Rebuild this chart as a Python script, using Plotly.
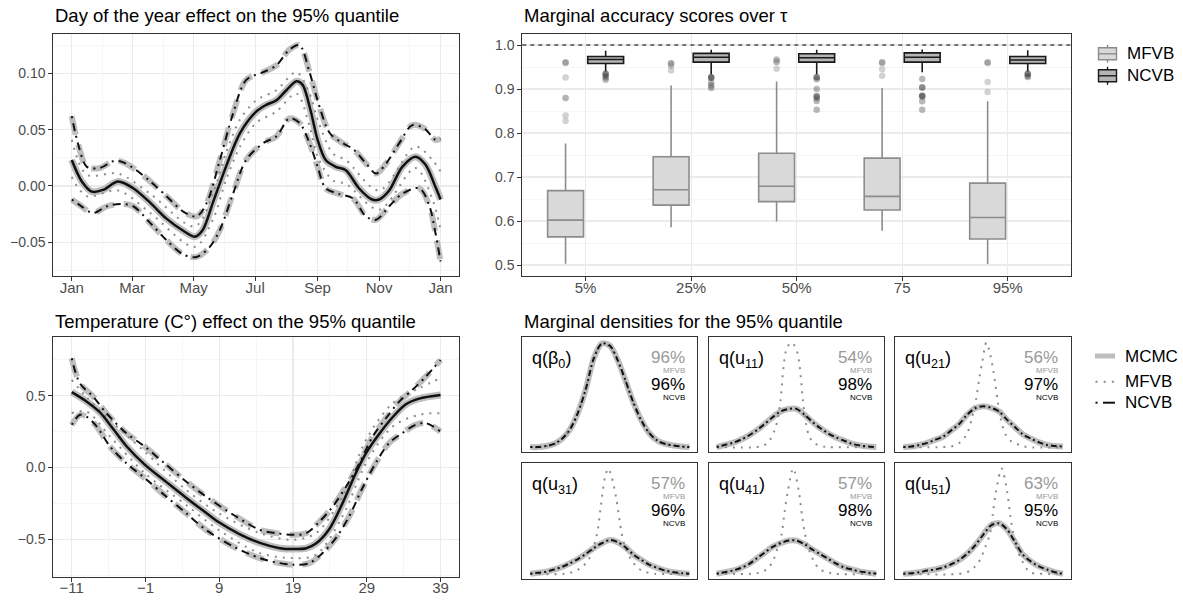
import plotly.graph_objects as go

W, H = 1183, 605
FONT = "Liberation Sans"
TICK_C = "#4D4D4D"
BORDER = "#333333"
GRID = "#EBEBEB"
MCMC_C = "#BEBEBE"
MFVB_C = "#8C8C8C"
NCVB_C = "#111111"

# ---------------- Day-of-year effect (top-left) ----------------
doy_mean_day = [1, 11, 21, 32, 47, 62, 79, 95, 112, 123, 131, 141, 154, 168, 184, 194, 204, 214, 224, 230,
                238, 245, 253, 263, 273, 286, 299, 306, 316, 329, 342, 352, 362, 367]
doy_mean = [0.023, 0.004, -0.005, -0.0035, 0.004, -0.002, -0.015, -0.029, -0.040, -0.045, -0.039, -0.015,
            0.017, 0.047, 0.066, 0.072, 0.076, 0.085, 0.093, 0.090, 0.067, 0.041, 0.023, 0.017, 0.014,
            -0.002, -0.012, -0.012, -0.004, 0.017, 0.026, 0.019, -0.001, -0.012]
doy_up_day = [1, 8, 16, 29, 42, 49, 62, 79, 95, 112, 125, 135, 148, 161, 174, 191, 204, 217, 227, 237,
              245, 257, 270, 280, 293, 303, 313, 326, 339, 351, 362, 367]
doy_up = [0.062, 0.035, 0.017, 0.016, 0.022, 0.022, 0.016, 0.004, -0.009, -0.023, -0.027, -0.015, 0.023,
          0.064, 0.094, 0.101, 0.107, 0.121, 0.125, 0.101, 0.076, 0.047, 0.038, 0.033, 0.020, 0.011,
          0.020, 0.038, 0.054, 0.051, 0.041, 0.042]
doy_lo_day = [1, 9, 22, 36, 49, 62, 79, 95, 112, 125, 138, 148, 161, 174, 191, 204, 217, 227, 237, 245,
              253, 266, 280, 293, 303, 316, 329, 346, 356, 362, 367]
doy_lo = [-0.012, -0.017, -0.024, -0.018, -0.016, -0.018, -0.033, -0.048, -0.061, -0.063, -0.054, -0.039,
          -0.007, 0.023, 0.038, 0.044, 0.060, 0.056, 0.038, 0.017, -0.002, -0.007, -0.011, -0.027,
          -0.030, -0.018, -0.007, -0.002, -0.018, -0.042, -0.067]
doy_mfvb_day = [1, 16, 47, 79, 123, 141, 154, 168, 184, 204, 224, 237, 245, 260, 273, 306, 342, 359, 367]
doy_mfvb_up = [0.041, 0.010, 0.011, -0.007, -0.036, -0.007, 0.029, 0.059, 0.076, 0.085, 0.101, 0.082,
               0.059, 0.029, 0.023, -0.004, 0.035, 0.023, 0.013]
doy_mfvb_lo = [0.008, -0.009, -0.004, -0.024, -0.054, -0.030, 0.005, 0.035, 0.056, 0.066, 0.082, 0.053,
               0.026, 0.005, 0.002, -0.021, 0.016, -0.012, -0.039]
doy_tick_vals = [1, 61, 122, 183, 245, 306, 367]
doy_tick_text = ["Jan", "Mar", "May", "Jul", "Sep", "Nov", "Jan"]
doy_minor = [32, 92, 153, 214, 275, 336]
doy_y_ticks = [-0.05, 0.0, 0.05, 0.10]
doy_y_text = ["\u22120.05", "0.00", "0.05", "0.10"]

# ---------------- Temperature effect (bottom-left) ----------------
tmp_mean_x = [-11, -9, -7.2, -5.4, -3.6, -1.1, 1.8, 4.5, 7.2, 8.9, 11.8, 14.5, 17.2, 19, 20.8, 22.1,
              23.9, 25.7, 27.5, 28.9, 30.7, 32.5, 34.3, 36.1, 39]
tmp_mean = [0.525, 0.46, 0.385, 0.27, 0.15, 0.02, -0.10, -0.21, -0.315, -0.38, -0.465, -0.525, -0.562,
            -0.568, -0.562, -0.53, -0.43, -0.25, -0.04, 0.10, 0.235, 0.35, 0.44, 0.48, 0.505]
tmp_up_x = [-11, -9.9, -8.1, -6.3, -3.6, -1.1, 1.8, 4.5, 7.2, 10.9, 14.5, 16.7, 19, 20.8, 22.6, 24.4,
            26.2, 28, 29.8, 31.6, 33.4, 35.2, 37, 39]
tmp_up = [0.761, 0.587, 0.494, 0.378, 0.239, 0.146, 0.019, -0.097, -0.202, -0.329, -0.434, -0.457,
          -0.469, -0.457, -0.376, -0.271, -0.132, 0.030, 0.216, 0.343, 0.459, 0.541, 0.633, 0.749]
tmp_lo_x = [-11, -9.9, -9, -7.6, -5.8, -3.6, -1.1, 1.8, 4.5, 7.2, 10.9, 14.5, 17.2, 19, 21.2, 23,
            24.8, 26.6, 28.4, 30.2, 32, 33.8, 35.6, 37, 39]
tmp_lo = [0.297, 0.367, 0.355, 0.285, 0.146, 0.030, -0.074, -0.202, -0.318, -0.434, -0.550, -0.631,
          -0.666, -0.677, -0.666, -0.596, -0.492, -0.341, -0.144, 0.030, 0.169, 0.239, 0.297, 0.309, 0.251]
tmp_mfvb_x = [-11, -9, -5.8, -1.1, 4.5, 8.9, 14.5, 19, 22.1, 25.7, 28.9, 32.5, 36.1, 39]
tmp_mfvb_up = [0.61, 0.49, 0.33, 0.11, -0.155, -0.318, -0.457, -0.503, -0.457, -0.202, 0.193, 0.448,
               0.552, 0.622]
tmp_mfvb_lo = [0.378, 0.39, 0.216, -0.039, -0.26, -0.434, -0.596, -0.631, -0.608, -0.341, 0.030, 0.285,
               0.367, 0.378]
tmp_tick_vals = [-11, -1, 9, 19, 29, 39]
tmp_tick_text = ["\u221211", "\u22121", "9", "19", "29", "39"]
tmp_minor = [-6, 4, 14, 24, 34]
tmp_y_ticks = [-0.5, 0.0, 0.5]
tmp_y_text = ["\u22120.5", "0.0", "0.5"]

# ---------------- Accuracy boxplots (top-right) ----------------
tau_labels = ["5%", "25%", "50%", "75", "95%"]
mfvb_q1 = [0.564, 0.636, 0.644, 0.625, 0.559]
mfvb_med = [0.602, 0.671, 0.679, 0.656, 0.608]
mfvb_q3 = [0.669, 0.746, 0.754, 0.743, 0.686]
mfvb_lo = [0.503, 0.586, 0.599, 0.578, 0.502]
mfvb_hi = [0.776, 0.908, 0.917, 0.902, 0.872]
ncvb_q1 = [0.958, 0.961, 0.961, 0.961, 0.958]
ncvb_med = [0.967, 0.972, 0.971, 0.972, 0.966]
ncvb_q3 = [0.974, 0.981, 0.980, 0.982, 0.974]
ncvb_lo = [0.940, 0.933, 0.933, 0.938, 0.940]
ncvb_hi = [0.987, 0.989, 0.989, 0.990, 0.988]
mfvb_out_05 = [0.961, 0.960, 0.959, 0.926, 0.880, 0.879, 0.840, 0.827]
mfvb_out_25 = [0.959, 0.958, 0.957, 0.952, 0.942]
mfvb_out_50 = [0.967, 0.966, 0.962, 0.961, 0.946]
mfvb_out_75 = [0.961, 0.960, 0.959, 0.945, 0.930]
mfvb_out_95 = [0.961, 0.960, 0.959, 0.916, 0.893]
ncvb_out_05 = [0.935, 0.934, 0.930, 0.926, 0.921]
ncvb_out_25 = [0.927, 0.926, 0.925, 0.914, 0.908, 0.902]
ncvb_out_50 = [0.927, 0.926, 0.922, 0.900, 0.884, 0.883, 0.879, 0.873, 0.853]
ncvb_out_75 = [0.923, 0.904, 0.903, 0.885, 0.884, 0.883, 0.872, 0.853]
ncvb_out_95 = [0.935, 0.934, 0.930, 0.927]
acc_y_ticks = [0.5, 0.6, 0.7, 0.8, 0.9, 1.0]
acc_y_text = ["0.5", "0.6", "0.7", "0.8", "0.9", "1.0"]
acc_minor = [0.55, 0.65, 0.75, 0.85, 0.95]

# ---------------- Marginal densities (bottom-right) ----------------
dens_x = [0, 5, 10, 15, 20, 25, 30, 35, 40, 45, 50, 55, 60, 65, 70, 75, 80, 85, 90, 95, 100]
mcmc_b0 = [0.00, 0.00, 0.01, 0.03, 0.08, 0.17, 0.33, 0.56, 0.85, 0.99, 0.97, 0.83, 0.63, 0.42, 0.25,
           0.13, 0.06, 0.03, 0.015, 0.005, 0.0]
mfvb_b0 = [0.00, 0.00, 0.01, 0.03, 0.08, 0.17, 0.33, 0.57, 0.86, 0.99, 0.96, 0.82, 0.62, 0.41, 0.24,
           0.13, 0.06, 0.03, 0.015, 0.005, 0.0]
mcmc_u11 = [0.0, 0.02, 0.04, 0.07, 0.11, 0.16, 0.22, 0.285, 0.34, 0.365, 0.365, 0.31, 0.24, 0.18, 0.13,
            0.09, 0.06, 0.03, 0.015, 0.005, 0.0]
mcmc_u21 = [0.0, 0.005, 0.02, 0.04, 0.07, 0.10, 0.16, 0.22, 0.31, 0.37, 0.39, 0.375, 0.34, 0.26, 0.19,
            0.12, 0.08, 0.045, 0.02, 0.01, 0.005]
mcmc_u31 = [0.0, 0.01, 0.02, 0.04, 0.065, 0.10, 0.14, 0.19, 0.245, 0.29, 0.32, 0.30, 0.25, 0.18, 0.13,
            0.085, 0.055, 0.03, 0.015, 0.005, 0.0]
mcmc_u41 = [0.0, 0.015, 0.03, 0.055, 0.09, 0.145, 0.20, 0.255, 0.29, 0.315, 0.315, 0.28, 0.23, 0.185,
            0.14, 0.095, 0.06, 0.04, 0.02, 0.01, 0.0]
mcmc_u51 = [0.0, 0.005, 0.015, 0.03, 0.04, 0.06, 0.09, 0.13, 0.19, 0.27, 0.37, 0.46, 0.48, 0.42, 0.30,
            0.18, 0.115, 0.07, 0.04, 0.015, 0.0]
mfvb_u11_x = [0, 25, 30, 33, 36, 38, 40, 42, 44, 47, 50, 52, 54, 56, 58, 61, 65, 70, 100]
mfvb_u11 = [0, 0, 0.02, 0.06, 0.15, 0.25, 0.45, 0.78, 0.95, 1.0, 0.93, 0.77, 0.45, 0.22, 0.10, 0.04,
            0.01, 0, 0]
mfvb_u21_x = [0, 25, 31, 36, 40, 43, 45.5, 47.5, 49.5, 52, 54.5, 56.5, 59, 61, 64, 68, 73, 78, 100]
mfvb_u21 = [0, 0, 0.01, 0.05, 0.13, 0.28, 0.45, 0.65, 0.82, 1.0, 0.88, 0.72, 0.45, 0.27, 0.12, 0.05,
            0.02, 0, 0]
mfvb_u31_x = [0, 22, 29, 33, 36.5, 39, 42, 44.5, 47, 49, 51, 54, 57.5, 60, 64, 68, 72, 78, 100]
mfvb_u31 = [0, 0, 0.03, 0.07, 0.13, 0.22, 0.38, 0.66, 0.92, 1.0, 0.93, 0.72, 0.38, 0.24, 0.12, 0.05,
            0.02, 0, 0]
mfvb_u41_x = [0, 22, 29, 32.5, 35.5, 38, 40.7, 42.5, 44.5, 48, 51.5, 53.5, 55.3, 57.5, 60.5, 64, 68, 74, 100]
mfvb_u41 = [0, 0, 0.02, 0.06, 0.13, 0.24, 0.38, 0.58, 0.78, 1.0, 0.78, 0.55, 0.38, 0.24, 0.13, 0.05,
            0.02, 0, 0]
mfvb_u51_x = [0, 35, 42, 45, 48, 51, 54.3, 56, 58, 61.6, 65, 67, 68.9, 71, 74.2, 77, 80, 85, 100]
mfvb_u51 = [0, 0, 0.03, 0.07, 0.13, 0.24, 0.38, 0.56, 0.78, 1.0, 0.78, 0.55, 0.38, 0.24, 0.13, 0.05,
            0.01, 0, 0]
dens_labels = ["q(\u03b2<sub>0</sub>)", "q(u<sub>11</sub>)", "q(u<sub>21</sub>)",
               "q(u<sub>31</sub>)", "q(u<sub>41</sub>)", "q(u<sub>51</sub>)"]
mfvb_pct = ["96%", "54%", "56%", "57%", "57%", "63%"]
ncvb_pct = ["96%", "98%", "97%", "96%", "98%", "95%"]

# ======================================================================
def pxx(p):
    return p / W


def pxy(p):
    return 1 - p / H


fig = go.Figure()


def line_trace(x, y, xa, ya, color, width, dash="solid"):
    return go.Scatter(x=x, y=y, mode="lines", xaxis=xa, yaxis=ya, showlegend=False, hoverinfo="skip",
                      line=dict(color=color, width=width, dash=dash, shape="spline", smoothing=0.9))


MCMC_DASH = "19px,10px"
NCVB_DASH = "2px,5px,8px,5px"
MFVB_DOT = "2px,6px"

# top-left
for xs, ys in [(doy_up_day, doy_up), (doy_lo_day, doy_lo)]:
    fig.add_trace(line_trace(xs, ys, "x", "y", MCMC_C, 6, MCMC_DASH))
fig.add_trace(line_trace(doy_mean_day, doy_mean, "x", "y", MCMC_C, 7))
for ys in [doy_mfvb_up, doy_mfvb_lo]:
    fig.add_trace(line_trace(doy_mfvb_day, ys, "x", "y", MFVB_C, 2, MFVB_DOT))
for xs, ys in [(doy_up_day, doy_up), (doy_lo_day, doy_lo)]:
    fig.add_trace(line_trace(xs, ys, "x", "y", NCVB_C, 2, NCVB_DASH))
fig.add_trace(line_trace(doy_mean_day, doy_mean, "x", "y", NCVB_C, 2.5))

# bottom-left
for xs, ys in [(tmp_up_x, tmp_up), (tmp_lo_x, tmp_lo)]:
    fig.add_trace(line_trace(xs, ys, "x3", "y3", MCMC_C, 6, MCMC_DASH))
fig.add_trace(line_trace(tmp_mean_x, tmp_mean, "x3", "y3", MCMC_C, 7))
for ys in [tmp_mfvb_up, tmp_mfvb_lo]:
    fig.add_trace(line_trace(tmp_mfvb_x, ys, "x3", "y3", MFVB_C, 2, MFVB_DOT))
for xs, ys in [(tmp_up_x, tmp_up), (tmp_lo_x, tmp_lo)]:
    fig.add_trace(line_trace(xs, ys, "x3", "y3", NCVB_C, 2, NCVB_DASH))
fig.add_trace(line_trace(tmp_mean_x, tmp_mean, "x3", "y3", NCVB_C, 2.5))

# boxplots
OFF = 0.19
BOXW = 0.34
cat_pos = [i + 1 for i in range(len(tau_labels))]
mfvb_pos = [c - OFF for c in cat_pos]
ncvb_pos = [c + OFF for c in cat_pos]
fig.add_trace(go.Box(x=mfvb_pos, q1=mfvb_q1, median=mfvb_med, q3=mfvb_q3, lowerfence=mfvb_lo,
                     upperfence=mfvb_hi, orientation="v", width=BOXW, whiskerwidth=0,
                     fillcolor="#D9D9D9", line=dict(color="#8C8C8C", width=1.6),
                     xaxis="x2", yaxis="y2", showlegend=False, hoverinfo="skip"))
fig.add_trace(go.Box(x=ncvb_pos, q1=ncvb_q1, median=ncvb_med, q3=ncvb_q3, lowerfence=ncvb_lo,
                     upperfence=ncvb_hi, orientation="v", width=BOXW, whiskerwidth=0,
                     fillcolor="#B5B5B5", line=dict(color="#1A1A1A", width=1.6),
                     xaxis="x2", yaxis="y2", showlegend=False, hoverinfo="skip"))
mfvb_outs = [mfvb_out_05, mfvb_out_25, mfvb_out_50, mfvb_out_75, mfvb_out_95]
ncvb_outs = [ncvb_out_05, ncvb_out_25, ncvb_out_50, ncvb_out_75, ncvb_out_95]
for pos, outs, col in [(mfvb_pos, mfvb_outs, "#7F7F7F"), (ncvb_pos, ncvb_outs, "#333333")]:
    xs, ys = [], []
    for p, o in zip(pos, outs):
        xs += [p] * len(o)
        ys += o
    fig.add_trace(go.Scatter(x=xs, y=ys, mode="markers", xaxis="x2", yaxis="y2", showlegend=False,
                             hoverinfo="skip",
                             marker=dict(color=col, size=6.5, opacity=0.35, line=dict(width=0))))

# densities
dens_mcmc = [mcmc_b0, mcmc_u11, mcmc_u21, mcmc_u31, mcmc_u41, mcmc_u51]
dens_mfvb_x = [dens_x, mfvb_u11_x, mfvb_u21_x, mfvb_u31_x, mfvb_u41_x, mfvb_u51_x]
dens_mfvb = [mfvb_b0, mfvb_u11, mfvb_u21, mfvb_u31, mfvb_u41, mfvb_u51]
for k in range(6):
    xa, ya = f"x{k + 4}", f"y{k + 4}"
    fig.add_trace(line_trace(dens_x, dens_mcmc[k], xa, ya, MCMC_C, 6))
    fig.add_trace(line_trace(dens_mfvb_x[k], dens_mfvb[k], xa, ya, MFVB_C, 2, MFVB_DOT))
    fig.add_trace(line_trace(dens_x, dens_mcmc[k], xa, ya, NCVB_C, 2, "2px,3px,6px,3px"))

# ----------------------------------------------------------------------
tickfont_y = dict(family=FONT, size=14, color=TICK_C)
tickfont_x = dict(family=FONT, size=15, color=TICK_C)


def axis(domain, rng, tv, tt, minor, anchor, tf, standoff=0):
    d = dict(domain=domain, range=rng, tickmode="array", tickvals=tv, ticktext=tt, anchor=anchor,
             showline=True, mirror=True, linecolor=BORDER, linewidth=1, zeroline=False,
             ticks="outside", ticklen=4, tickcolor=BORDER, tickwidth=1, showgrid=True,
             gridcolor=GRID, gridwidth=1.1, tickfont=tf, fixedrange=True,
             ticklabelstandoff=standoff)
    if minor:
        d["minor"] = dict(tickmode="array", tickvals=minor, showgrid=True, gridcolor="#F0F0F0",
                          gridwidth=0.6, ticks="")
    return d


L_dom = [pxx(53.3), pxx(459)]
R_dom = [pxx(522.3), pxx(1071)]
T_dom = [pxy(276), pxy(34)]
B_dom = [pxy(576.7), pxy(337.3)]

layout = dict(
    width=W, height=H, margin=dict(l=0, r=0, t=0, b=0), paper_bgcolor="white", plot_bgcolor="white",
    showlegend=False, font=dict(family=FONT),
    xaxis=axis(L_dom, [-17.3, 385.3], doy_tick_vals, doy_tick_text, doy_minor, "y", tickfont_x, -6),
    yaxis=axis(T_dom, [-0.0799, 0.1349], doy_y_ticks, doy_y_text,
               [-0.075, -0.025, 0.025, 0.075, 0.125], "x", tickfont_y),
    xaxis2=axis(R_dom, [0.4, 5.6], cat_pos, tau_labels, None, "y2", tickfont_x, -6),
    yaxis2=axis(T_dom, [0.475, 1.025], acc_y_ticks, acc_y_text, acc_minor, "x2", tickfont_y),
    xaxis3=axis(L_dom, [-13.5, 41.5], tmp_tick_vals, tmp_tick_text, tmp_minor, "y3", tickfont_x, -7),
    yaxis3=axis(B_dom, [-0.7604, 0.9067], tmp_y_ticks, tmp_y_text,
                [-0.75, -0.25, 0.25, 0.75], "x3", tickfont_y),
)

col_px = [(522.3, 697.3), (708.7, 884.3), (895.3, 1071)]
row_px = [(337.3, 452.3), (463.3, 579)]
for k in range(6):
    r, c = divmod(k, 3)
    n = k + 4
    blank = dict(showline=True, mirror=True, linecolor=BORDER, linewidth=1, zeroline=False,
                 showgrid=False, showticklabels=False, ticks="", fixedrange=True)
    layout[f"xaxis{n}"] = dict(blank, domain=[pxx(col_px[c][0]), pxx(col_px[c][1])], range=[-5, 105],
                               anchor=f"y{n}")
    layout[f"yaxis{n}"] = dict(blank, domain=[pxy(row_px[r][1]), pxy(row_px[r][0])],
                               range=[-0.05, 1.05], anchor=f"x{n}")

fig.update_layout(**layout)

ann = []


def text(x, y, s, size, color="black", xanchor="left", xref="paper", yref="paper"):
    ann.append(dict(x=x, y=y, xref=xref, yref=yref, text=s, showarrow=False, xanchor=xanchor,
                    yanchor="middle", font=dict(family=FONT, size=size, color=color)))


text(pxx(52.5), pxy(15), "Day of the year effect on the 95% quantile", 18.5)
text(pxx(521.5), pxy(15), "Marginal accuracy scores over \u03c4", 18.5)
text(pxx(52.5), pxy(321.5), "Temperature (C\u00b0) effect on the 95% quantile", 18.5)
text(pxx(521.5), pxy(321.5), "Marginal densities for the 95% quantile", 18.5)

for k in range(6):
    n = k + 4
    xr, yr = f"x{n} domain", f"y{n} domain"
    text(0.045, 1 - 22 / 115, dens_labels[k], 18, "black", "left", xr, yr)
    text(0.94, 1 - 20 / 115, mfvb_pct[k], 17, "#999999", "right", xr, yr)
    text(0.94, 1 - 33 / 115, "MFVB", 8, "#999999", "right", xr, yr)
    text(0.94, 1 - 47 / 115, ncvb_pct[k], 17, "black", "right", xr, yr)
    text(0.94, 1 - 60 / 115, "NCVB", 8, "black", "right", xr, yr)

# legends (top-right boxplot, bottom-right densities)
shapes = []


def seg(x0, y0, x1, y1, color, width, dash="solid"):
    shapes.append(dict(type="line", xref="paper", yref="paper", x0=pxx(x0), y0=pxy(y0), x1=pxx(x1),
                       y1=pxy(y1), line=dict(color=color, width=width, dash=dash)))


def box_key(yc, fill, col):
    cx = 1107.5
    seg(cx, yc - 9, cx, yc + 9, col, 1.4)
    shapes.append(dict(type="rect", xref="paper", yref="paper", x0=pxx(1098.5), x1=pxx(1116.5),
                       y0=pxy(yc - 6), y1=pxy(yc + 6), fillcolor=fill, line=dict(color=col, width=1.4)))
    seg(1098.5, yc, 1116.5, yc, col, 1.4)


box_key(53.8, "#D9D9D9", "#8C8C8C")
box_key(75.8, "#B5B5B5", "#1A1A1A")
text(pxx(1124.5), pxy(53.8), "MFVB", 17)
text(pxx(1124.5), pxy(75.8), "NCVB", 17)

seg(1095, 356, 1115, 356, MCMC_C, 5)
seg(1095.5, 381.7, 1115, 381.7, MFVB_C, 2, "2px,6.2px")
seg(1095.5, 402.7, 1097.5, 402.7, NCVB_C, 2)
seg(1103, 402.7, 1115, 402.7, NCVB_C, 2)
text(pxx(1123), pxy(356.5), "MCMC", 17)
text(pxx(1123), pxy(381.7), "MFVB", 17)
text(pxx(1123), pxy(402.7), "NCVB", 17)

# reference line at 1.0 in the accuracy panel
shapes.append(dict(type="line", xref="x2 domain", yref="y2", x0=0, x1=1, y0=1.0, y1=1.0,
                   line=dict(color="black", width=1.1, dash="4px,4px")))

fig.update_layout(annotations=ann, shapes=shapes)

fig.write_html("out.html", config={"displayModeBar": False, "staticPlot": True},
               post_script="document.body.style.margin='0';document.body.style.overflow='hidden';")
